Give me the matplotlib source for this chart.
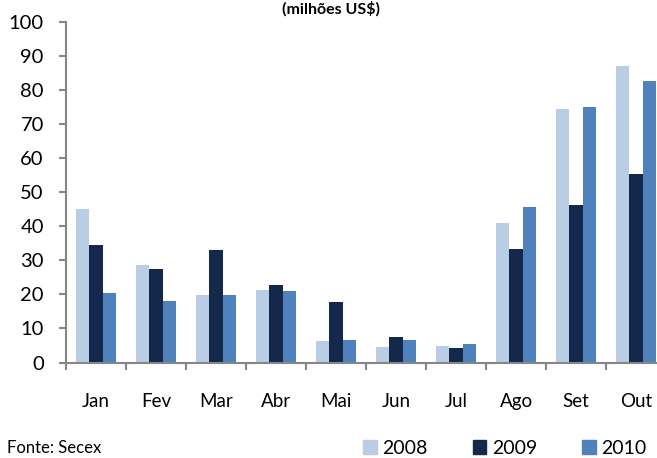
import matplotlib
matplotlib.use("Agg")
import matplotlib.pyplot as plt
import numpy as np
from matplotlib.patches import Patch

# ========================
# Data
# ========================
months = ["Jan", "Fev", "Mar", "Abr", "Mai", "Jun", "Jul", "Ago", "Set", "Out"]
v2008 = [45.1, 28.7, 19.8, 21.2, 6.2, 4.6, 4.9, 41.0, 74.5, 87.2]
v2009 = [34.5, 27.4, 33.0, 22.7, 17.7, 7.4, 4.3, 33.4, 46.3, 55.5]
v2010 = [20.3, 18.0, 19.7, 21.0, 6.5, 6.5, 5.3, 45.8, 75.0, 82.7]
years = ["2008", "2009", "2010"]
colors = ["#B9CDE5", "#14284B", "#4F81BD"]

plt.rcParams['font.family'] = ['Lato', 'DejaVu Sans']

W, H = 657, 458
fig = plt.figure(figsize=(W / 100, H / 100), dpi=100)
ax = fig.add_axes([66 / W, (H - 362.5) / H, 600 / W, 340.2 / H])

x = np.arange(len(months))
bw = 0.222
for i, (vals, c) in enumerate(zip([v2008, v2009, v2010], colors)):
    ax.bar(x + (i - 1) * bw, vals, width=bw, color=c, linewidth=0)

ax.set_xlim(-0.5, len(months) - 0.5)
ax.set_ylim(0, 100)
ax.set_yticks(range(0, 101, 10))

# category boundaries as major ticks, labels on minor ticks
ax.set_xticks(np.arange(-0.5, len(months), 1.0))
ax.set_xticklabels([])
ax.set_xticks(x, minor=True)
ax.set_xticklabels(months, minor=True)
ax.tick_params(axis='x', which='minor', length=0, pad=22, labelsize=13.5)
ax.tick_params(axis='x', which='major', length=5, width=1.5, color="#868686", direction='out')
ax.tick_params(axis='y', length=5, width=1.5, color="#868686", pad=11, labelsize=14.5)

for s in ["top", "right"]:
    ax.spines[s].set_visible(False)
for s in ["left", "bottom"]:
    ax.spines[s].set_color("#868686")
    ax.spines[s].set_linewidth(1.5)

fig.text(331 / W, 1 - 1 / H, "(milhões US$)", ha="center", va="top",
         fontsize=11.5, fontweight="bold")
fig.text(7 / W, 1 - 456 / H, "Fonte: Secex", ha="left", va="bottom", fontsize=12)

handles = [Patch(color=c) for c in colors]
fig.legend(handles, years, loc="center left", bbox_to_anchor=(363 / W, 1 - 448 / H),
           ncol=3, frameon=False, fontsize=14, handlelength=0.7, handleheight=0.7,
           handletextpad=0.3, columnspacing=2.3, borderpad=0, borderaxespad=0)

fig.savefig("out.png", dpi=100)
